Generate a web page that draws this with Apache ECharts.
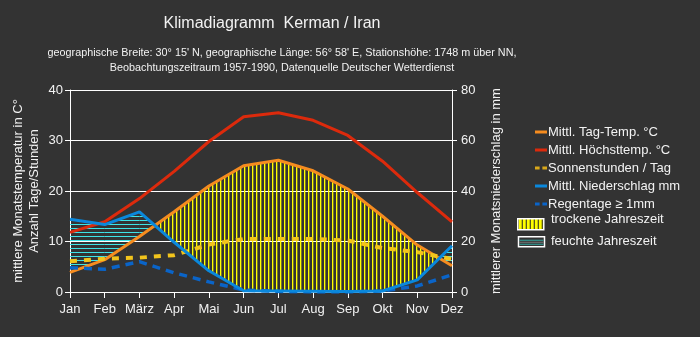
<!DOCTYPE html>
<html><head><meta charset="utf-8">
<script src="https://cdn.jsdelivr.net/npm/echarts@6/dist/echarts.min.js"></script>
<style>html,body{margin:0;padding:0;background:#333333;} #c{width:700px;height:337px;}</style>
</head><body><div id="c"></div>
<script>
// ---- data ----
const months = ['Jan','Feb','März','Apr','Mai','Jun','Jul','Aug','Sep','Okt','Nov','Dez'];
const meanTemp = [3.9, 6.4, 11.0, 15.9, 21.0, 25.0, 26.1, 24.0, 20.4, 15.0, 9.3, 5.2];
const maxTemp  = [11.8, 13.9, 18.5, 23.9, 29.8, 34.7, 35.5, 34.0, 31.0, 25.9, 19.7, 13.9];
const sunHours = [6.1, 6.6, 6.8, 7.3, 9.4, 10.5, 10.5, 10.5, 10.2, 8.7, 7.9, 6.5];
const precip   = [28.8, 26.7, 31.7, 19.7, 8.4, 0.5, 0.4, 0.3, 0.2, 0.4, 4.8, 18.3];
const rainDays = [4.8, 4.5, 6.0, 3.8, 2.0, 0.4, 0.1, 0.0, 0.0, 0.2, 1.2, 3.4];
const tempTicks = [0, 40, 10];   // min, max, interval
const precTicks = [0, 80, 20];

const FONT = 'Liberation Sans, Arial, sans-serif';
const TXT = '#f2f2f2';
const MM_PER_DEG = precTicks[1] / tempTicks[1];

function makePattern(w, h, draw) {
  const c = document.createElement('canvas'); c.width = w; c.height = h;
  draw(c.getContext('2d')); return c;
}
const dryPat = makePattern(4, 4, ctx => { ctx.fillStyle = '#ffff00'; ctx.fillRect(0, 0, 1, 4); ctx.fillStyle='rgba(255,255,0,0.35)'; ctx.fillRect(1,0,1,4); });
const wetPat = makePattern(4, 4, ctx => { ctx.fillStyle = '#3ee2e6'; ctx.fillRect(0, 0, 4, 1); });
const dryFill = { image: dryPat, repeat: 'repeat' };
const wetFill = { image: wetPat, repeat: 'repeat' };
const legDryPat = makePattern(4, 4, ctx => { ctx.fillStyle = '#ffff00'; ctx.fillRect(0, 0, 4, 4); ctx.fillStyle = '#222'; ctx.fillRect(0, 0, 1, 4); });

const segments = months.slice(0, -1).map((m, i) => [i]);

function renderHatch(params, api) {
  const i = api.value(0), j = i + 1;
  const A0 = api.coord([i, meanTemp[i]]), A1 = api.coord([j, meanTemp[j]]);
  const B0 = api.coord([i, precip[i] / MM_PER_DEG]), B1 = api.coord([j, precip[j] / MM_PER_DEG]);
  const d0 = meanTemp[i] - precip[i] / MM_PER_DEG;
  const d1 = meanTemp[j] - precip[j] / MM_PER_DEG;
  const children = [];
  const poly = (pts, fill) => children.push({ type: 'polygon', shape: { points: pts }, style: { fill: fill, stroke: null } });
  if (d0 >= 0 && d1 >= 0) poly([A0, A1, B1, B0], dryFill);
  else if (d0 <= 0 && d1 <= 0) poly([B0, B1, A1, A0], wetFill);
  else {
    const f = d0 / (d0 - d1);
    const C = [A0[0] + f * (A1[0] - A0[0]), A0[1] + f * (A1[1] - A0[1])];
    poly([A0, C, B0], d0 > 0 ? dryFill : wetFill);
    poly([C, A1, B1], d1 > 0 ? dryFill : wetFill);
  }
  return { type: 'group', children: children };
}

const SOLID_ICON = 'rect';
const DASH_ICON = 'path://M0,0h5v3h-5zM8,0h5v3h-5z';

const chart = echarts.init(document.getElementById('c'), null, { renderer: 'canvas' });
chart.setOption({
  backgroundColor: '#333333',
  animation: false,
  textStyle: { fontFamily: FONT, color: TXT },
  title: [
    { text: 'Klimadiagramm  Kerman / Iran', left: 272, top: 16, padding: 0, textAlign: 'center',
      textStyle: { fontFamily: FONT, fontSize: 16, fontWeight: 'normal', color: TXT } },
    { text: 'geographische Breite: 30° 15\' N, geographische Länge: 56° 58\' E, Stationshöhe: 1748 m über NN,\nBeobachtungszeitraum 1957-1990, Datenquelle Deutscher Wetterdienst',
      left: 282, top: 46, padding: 0, textAlign: 'center',
      textStyle: { fontFamily: FONT, fontSize: 10.8, lineHeight: 15, fontWeight: 'normal', color: TXT } }
  ],
  grid: { left: 70, right: 248, top: 90, bottom: 45, containLabel: false, outerBoundsMode: 'none' },
  legend: {
    orient: 'vertical', left: 535, top: 124, padding: 0, itemGap: 2, itemWidth: 12, itemHeight: 3,
    textStyle: { fontFamily: FONT, fontSize: 13, lineHeight: 16, color: TXT, padding: [0, 0, 0, -4] },
    data: [
      { name: 'Mittl. Tag-Temp. °C', icon: SOLID_ICON },
      { name: 'Mittl. Höchsttemp. °C', icon: SOLID_ICON },
      { name: 'Sonnenstunden / Tag', icon: DASH_ICON, itemStyle: { color: '#d9a81a' } },
      { name: 'Mittl. Niederschlag mm', icon: SOLID_ICON },
      { name: 'Regentage ≥ 1mm', icon: DASH_ICON }
    ]
  },
  xAxis: {
    type: 'category', data: months, boundaryGap: false,
    axisLine: { lineStyle: { color: '#ffffff', width: 1 } },
    axisTick: { length: 6, lineStyle: { color: '#ffffff' } },
    axisLabel: { color: TXT, fontSize: 13, margin: 11, fontFamily: FONT, interval: 0 },
    splitLine: { show: false }
  },
  yAxis: [
    { type: 'value', min: tempTicks[0], max: tempTicks[1], interval: tempTicks[2],
      name: 'mittlere Monatstemperatur in C°\nAnzahl Tage/Stunden', nameLocation: 'middle', nameRotate: 90, nameGap: 27.5,
      nameMoveOverlap: false,
      nameTextStyle: { color: TXT, fontSize: 13, lineHeight: 16, fontFamily: FONT },
      axisLine: { show: true, lineStyle: { color: '#ffffff' } },
      axisTick: { show: true, length: 5, lineStyle: { color: '#ffffff' } },
      axisLabel: { color: TXT, fontSize: 13, margin: 7, fontFamily: FONT },
      splitLine: { show: true, lineStyle: { color: '#ffffff', width: 1 } } },
    { type: 'value', min: precTicks[0], max: precTicks[1], interval: precTicks[2], position: 'right',
      name: 'mittlerer Monatsniederschlag in mm', nameLocation: 'middle', nameRotate: 90, nameGap: 38,
      nameMoveOverlap: false,
      nameTextStyle: { color: TXT, fontSize: 13, fontFamily: FONT },
      axisLine: { show: true, lineStyle: { color: '#ffffff' } },
      axisTick: { show: true, length: 5, lineStyle: { color: '#ffffff' } },
      axisLabel: { color: TXT, fontSize: 13, margin: 9, fontFamily: FONT },
      splitLine: { show: false } }
  ],
  series: [
    { type: 'custom', name: 'hatch', renderItem: renderHatch, data: segments, z: 1, silent: true,
      encode: { x: 0 }, yAxisIndex: 0 },
    { type: 'line', name: 'Mittl. Tag-Temp. °C', data: meanTemp, yAxisIndex: 0, symbol: 'none', z: 3,
      color: '#f68c1f', lineStyle: { color: '#f68c1f', width: 3 } },
    { type: 'line', name: 'Mittl. Höchsttemp. °C', data: maxTemp, yAxisIndex: 0, symbol: 'none', z: 3,
      color: '#dc2a0c', lineStyle: { color: '#dc2a0c', width: 3 } },
    { type: 'line', name: 'Sonnenstunden / Tag', data: sunHours, yAxisIndex: 0, symbol: 'none', z: 3,
      color: '#f2c41c', lineStyle: { color: '#f2c41c', width: 4, type: [7, 7] } },
    { type: 'line', name: 'Mittl. Niederschlag mm', data: precip, yAxisIndex: 1, symbol: 'none', z: 4,
      color: '#0a88dc', lineStyle: { color: '#0a88dc', width: 3 } },
    { type: 'line', name: 'Regentage ≥ 1mm', data: rainDays, yAxisIndex: 0, symbol: 'none', z: 3,
      color: '#0a64c8', lineStyle: { color: '#0a64c8', width: 3.5, type: [8, 6] } }
  ],
  graphic: [
    { type: 'rect', left: 517, top: 218, shape: { width: 26, height: 11 },
      style: { fill: { image: legDryPat, repeat: 'repeat' }, stroke: '#ffffff', lineWidth: 1.5 } },
    { type: 'text', left: 551, top: 213, style: { text: 'trockene Jahreszeit', fill: TXT, font: '13px ' + FONT } },
    { type: 'group', left: 517, top: 236, children: [
      { type: 'rect', shape: { x: 0, y: 0, width: 26, height: 10 }, style: { fill: '#333333', stroke: '#ffffff', lineWidth: 1.5 } },
      { type: 'line', shape: { x1: 1, y1: 3.5, x2: 25, y2: 3.5 }, style: { stroke: '#35a7a0', lineWidth: 1 } },
      { type: 'line', shape: { x1: 1, y1: 5.5, x2: 25, y2: 5.5 }, style: { stroke: '#777777', lineWidth: 1 } },
      { type: 'line', shape: { x1: 1, y1: 7.5, x2: 25, y2: 7.5 }, style: { stroke: '#35a7a0', lineWidth: 1 } }
    ] },
    { type: 'text', left: 551, top: 235, style: { text: 'feuchte Jahreszeit', fill: TXT, font: '13px ' + FONT } }
  ]
});
</script>
</body></html>
